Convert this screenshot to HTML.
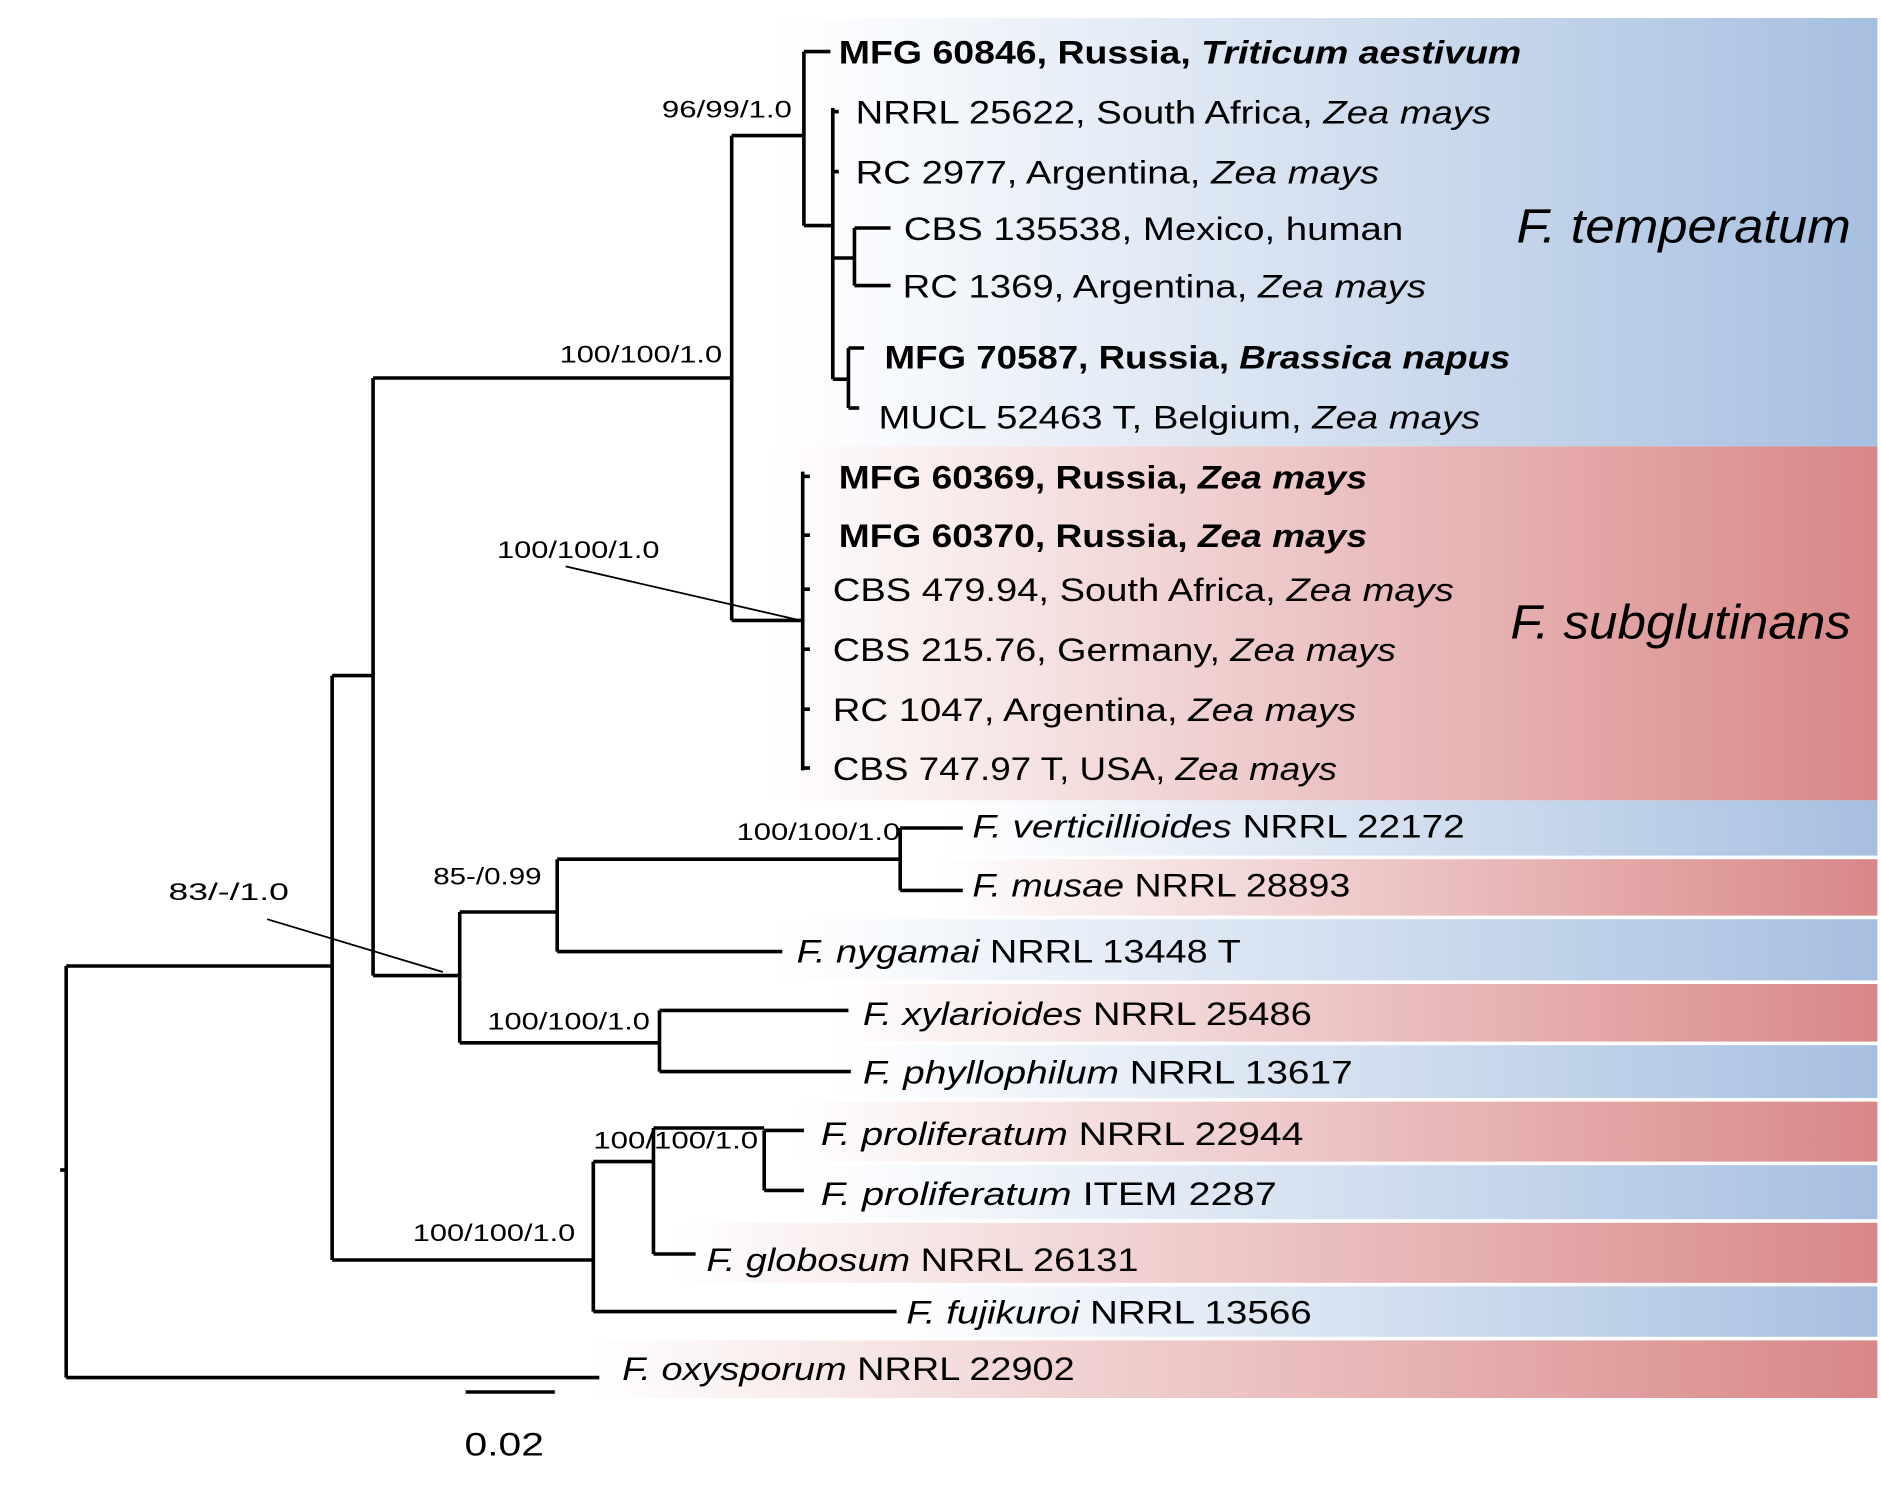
<!DOCTYPE html>
<html><head><meta charset="utf-8"><style>html,body{margin:0;padding:0;background:#fff}svg{display:block}</style></head>
<body>
<svg id="tree" width="1881" height="1494" viewBox="0 0 1563 1245" preserveAspectRatio="none" xmlns="http://www.w3.org/2000/svg" font-family="'Liberation Sans', sans-serif">
<defs>
<linearGradient id="gb" x1="0" x2="1" y1="0" y2="0"><stop offset="0" stop-color="#ffffff"/><stop offset="0.1" stop-color="#f8fafd"/><stop offset="1" stop-color="#a6bfe0"/></linearGradient>
<linearGradient id="gr" x1="0" x2="1" y1="0" y2="0"><stop offset="0" stop-color="#ffffff"/><stop offset="0.1" stop-color="#fbf3f3"/><stop offset="1" stop-color="#d98787"/></linearGradient>
</defs>
<g id="bands"></g><g id="branches" stroke="#000" stroke-width="3" fill="none"></g><g id="labels"></g>
</svg>
<script>
// band data
const bandTops=[15,372,667,716,766,820,871,918,971,1019,1072,1117];
const bandBottoms=[372,667,713,763,817,868,915,968,1016,1069,1114,1165];
const bandStarts=[640,640,780,780,640,690,690,660,660,560,730,490];
const bandColors=['b','r','b','r','b','r','b','r','b','r','b','r'];
// leaves
const leafY=[43,93,143,190,238,297,347,397,446,491,541,591,640,688,737,792,844,893,944,994,1049,1093,1140];
const leafX=[697,711,711,751,750,735,730,697,697,692,692,692,692,808,808,662,717,717,682,682,587,753,517];
const leafEnd=[1264,1239,1146,1166,1185,1255,1230,1136,1136,1208,1160,1127,1111,1217,1122,1031,1090,1124,1083,1061,946,1090,893];
const leafParts=[
[['MFG 60846, Russia, ','b'],['Triticum aestivum','bi']],
[['NRRL 25622, South Africa, ',''],['Zea mays','i']],
[['RC 2977, Argentina, ',''],['Zea mays','i']],
[['CBS 135538, Mexico, human','']],
[['RC 1369, Argentina, ',''],['Zea mays','i']],
[['MFG 70587, Russia, ','b'],['Brassica napus','bi']],
[['MUCL 52463 T, Belgium, ',''],['Zea mays','i']],
[['MFG 60369, Russia, ','b'],['Zea mays','bi']],
[['MFG 60370, Russia, ','b'],['Zea mays','bi']],
[['CBS 479.94, South Africa, ',''],['Zea mays','i']],
[['CBS 215.76, Germany, ',''],['Zea mays','i']],
[['RC 1047, Argentina, ',''],['Zea mays','i']],
[['CBS 747.97 T, USA, ',''],['Zea mays','i']],
[['F. verticillioides','i'],[' NRRL 22172','']],
[['F. musae','i'],[' NRRL 28893','']],
[['F. nygamai','i'],[' NRRL 13448 T','']],
[['F. xylarioides','i'],[' NRRL 25486','']],
[['F. phyllophilum','i'],[' NRRL 13617','']],
[['F. proliferatum','i'],[' NRRL 22944','']],
[['F. proliferatum','i'],[' ITEM 2287','']],
[['F. globosum','i'],[' NRRL 26131','']],
[['F. fujikuroi','i'],[' NRRL 13566','']],
[['F. oxysporum','i'],[' NRRL 22902','']]];
// branches
const vSegs=[[55,805,1148],[276,563,1050],[310,315,813],[608,113,517],[668,43,188],[692,90,316],[710,190,238],[705,290,340],[667,393,642],[382,760,869],[463,716,793],[748,690,742],[548,842,893],[493,968,1093],[543,940,1045],[635,942,992]];
const hSegs=[[975,50,55],[805,55,276],[1148,55,498],[563,276,310],[1050,276,493],[315,310,608],[813,310,382],[113,608,668],[517,608,667],[43,668,690],[188,668,692],[93,692,697],[143,692,697],[215,692,710],[316,692,705],[190,710,740],[238,710,740],[290,705,718],[340,705,714],
[397,667,673],[446,667,673],[491,667,673],[541,667,673],[591,667,673],[640,667,673],[760,382,463],[869,382,548],[716,463,748],[793,463,650],[690,748,800],[742,748,800],[842,548,705],[893,548,707],[968,493,543],[1093,493,745],[940,543,635],[1045,543,578],[942,635,668],[992,635,668],[1160,387,461]];
// support values
const supText=['96/99/1.0','100/100/1.0','100/100/1.0','100/100/1.0','85-/0.99','83/-/1.0','100/100/1.0','100/100/1.0','100/100/1.0'];
const supX=[550,465,413,612,360,140,405,493,343];
const supY=[98,302,465,700,737,750,858,957,1034];
const supEnd=[658,600,548,748,450,240,540,630,478];

const NS='http://www.w3.org/2000/svg';
const bands=document.getElementById('bands'),br=document.getElementById('branches'),lb=document.getElementById('labels');
function mk(tag,attrs,parent){const e=document.createElementNS(NS,tag);for(const k in attrs)e.setAttribute(k,attrs[k]);parent.appendChild(e);return e;}
bandTops.forEach((t,i)=>{
 const r=mk('rect',{x:bandStarts[i],y:t,width:1560-bandStarts[i],height:bandBottoms[i]-t,fill:bandColors[i]=='b'?'url(#gb)':'url(#gr)'},bands);
 
 
});
vSegs.forEach(s=>{const l=mk('line',{x1:s[0],x2:s[0],y1:s[1],y2:s[2]},br);
 
 });
hSegs.forEach((s,i)=>{const l=mk('line',{x1:s[1],x2:s[2],y1:s[0],y2:s[0]},br);
 
 });
mk('line',{x1:222,y1:766,x2:368,y2:810,stroke:'#000','stroke-width':1.5},br);
mk('line',{x1:470,y1:472,x2:665,y2:517,stroke:'#000','stroke-width':1.5},br);
leafY.forEach((y,i)=>{
 const t=mk('text',{x:leafX[i],y:y+10,'font-size':27,textLength:leafEnd[i]-leafX[i],lengthAdjust:'spacingAndGlyphs'},lb);
 
 
 leafParts[i].forEach(p=>{const s=mk('tspan',{},t);s.textContent=p[0];
  if(p[1].includes('b'))s.setAttribute('font-weight','bold');
  if(p[1].includes('i'))s.setAttribute('font-style','italic');});
});
supText.forEach((s,i)=>{const t=mk('text',{x:supX[i],y:supY[i],'font-size':20,textLength:supEnd[i]-supX[i],lengthAdjust:'spacingAndGlyphs'},lb);
 t.textContent=s;
 
 });
[['F. temperatum',1260,202],['F. subglutinans',1255,532]].forEach(c=>{
 const t=mk('text',{x:c[1],y:c[2],'font-size':40,'font-style':'italic',textLength:1538-c[1],lengthAdjust:'spacingAndGlyphs'},lb);
 t.textContent=c[0];
 
 });
const sc=mk('text',{x:386,y:1213,'font-size':27,textLength:66,lengthAdjust:'spacingAndGlyphs'},lb);
sc.textContent='0.02';


</script>
</body></html>
